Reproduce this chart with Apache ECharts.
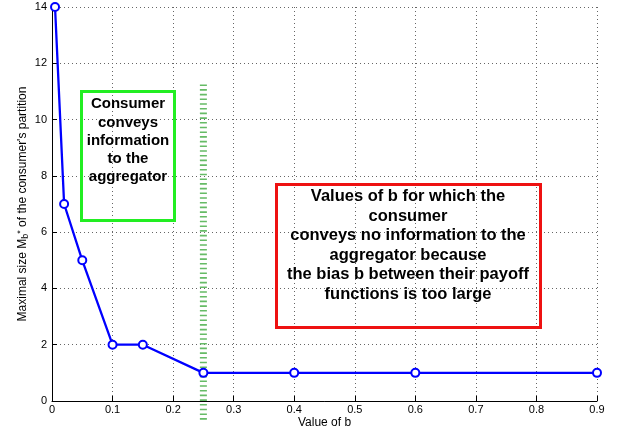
<!DOCTYPE html>
<html>
<head>
<meta charset="utf-8">
<script src="https://cdn.jsdelivr.net/npm/echarts@6/dist/echarts.min.js"></script>
<style>html,body{margin:0;padding:0;background:#fff;}#c{width:626px;height:434px;}</style>
</head>
<body>
<div id="c"></div>
<script>
// Data
const bValues = [0.005, 0.02, 0.05, 0.1, 0.15, 0.25, 0.4, 0.6, 0.9];
const maxSize = [14, 7, 5, 2, 2, 1, 1, 1, 1];
const thresholdB = [0.25, 0.25];
const thresholdY = [11.25, -0.75];
const xTicks = [0, 0.1, 0.2, 0.3, 0.4, 0.5, 0.6, 0.7, 0.8, 0.9];
const yTicks = [0, 2, 4, 6, 8, 10, 12, 14];
const greenText = ['Consumer', 'conveys', 'information', 'to the', 'aggregator'];
const redText = ['Values of b for which the', 'consumer', 'conveys no information to the', 'aggregator because', 'the bias b between their payoff', 'functions is too large'];

const FONT = '"Liberation Sans", Arial, Helvetica, sans-serif';
const chart = echarts.init(document.getElementById('c'), null, {renderer: 'canvas'});

const option = {
  backgroundColor: '#ffffff',
  animation: false,
  grid: {left: 52, right: 29, top: 7, bottom: 33, containLabel: false, outerBoundsMode: 'none'},
  xAxis: {
    type: 'value', min: xTicks[0], max: xTicks[xTicks.length - 1], interval: 0.1,
    name: 'Value of b', nameLocation: 'middle', nameGap: 16, nameMoveOverlap: false,
    nameTextStyle: {fontFamily: FONT, fontSize: 12, color: '#000'},
    axisLine: {show: true, onZero: false, lineStyle: {color: '#000', width: 1}},
    axisTick: {show: true, inside: true, length: 5, lineStyle: {color: '#000'}},
    axisLabel: {fontFamily: FONT, fontSize: 11, color: '#000', margin: 3,
      formatter: v => String(Math.round(v * 10) / 10)},
    splitLine: {show: true, lineStyle: {color: '#666', type: [1, 3], width: 1}}
  },
  yAxis: {
    type: 'value', min: yTicks[0], max: yTicks[yTicks.length - 1], interval: 2,
    name: 'Maximal size M{sub|b}{sup|*} of the consumer\'s partition',
    nameLocation: 'middle', nameGap: 22, nameRotate: 90, nameMoveOverlap: false,
    nameTextStyle: {fontFamily: FONT, fontSize: 12, color: '#000',
      rich: {
        sub: {fontFamily: FONT, fontSize: 9, color: '#000', verticalAlign: 'bottom', padding: [5, 0, 0, 0]},
        sup: {fontFamily: FONT, fontSize: 9, color: '#000', verticalAlign: 'top', padding: [0, 0, 5, 0]}
      }},
    axisLine: {show: true, lineStyle: {color: '#000', width: 1}},
    axisTick: {show: true, inside: true, length: 5, lineStyle: {color: '#000'}},
    axisLabel: {fontFamily: FONT, fontSize: 11, color: '#000', margin: 5},
    splitLine: {show: true, lineStyle: {color: '#666', type: [1, 3], width: 1}}
  },
  series: [
    {
      type: 'line', z: 2, clip: false, symbol: 'none', silent: true,
      data: thresholdB.map((b, i) => [b, thresholdY[i]]),
      lineStyle: {color: '#66bb66', width: 7, type: [1.6, 3.1], cap: 'butt'}
    },
    {
      type: 'line', z: 3,
      data: bValues.map((b, i) => [b, maxSize[i]]),
      symbol: 'emptyCircle', symbolSize: 8, showAllSymbol: true,
      lineStyle: {color: '#0000ff', width: 2.3},
      itemStyle: {color: '#0000ff', borderColor: '#0000ff', borderWidth: 2}
    }
  ],
  graphic: [
    {type: 'rect', z: 10, shape: {x: 81.5, y: 91.5, width: 93, height: 129},
      style: {fill: 'rgba(255,255,255,0)', stroke: '#22ee22', lineWidth: 3}},
    {type: 'text', z: 11, x: 128, y: 95,
      style: {text: greenText.join('\n'), font: 'bold 15px ' + FONT, fill: '#000',
        textAlign: 'center', textVerticalAlign: 'top', lineHeight: 18.3}},
    {type: 'rect', z: 10, shape: {x: 276.5, y: 184.5, width: 264, height: 143},
      style: {fill: 'rgba(255,255,255,0)', stroke: '#ee1111', lineWidth: 3}},
    {type: 'text', z: 11, x: 408, y: 187,
      style: {text: redText.join('\n'), font: 'bold 16.5px ' + FONT, fill: '#000',
        textAlign: 'center', textVerticalAlign: 'top', lineHeight: 19.5}}
  ]
};
chart.setOption(option);
</script>
</body>
</html>
